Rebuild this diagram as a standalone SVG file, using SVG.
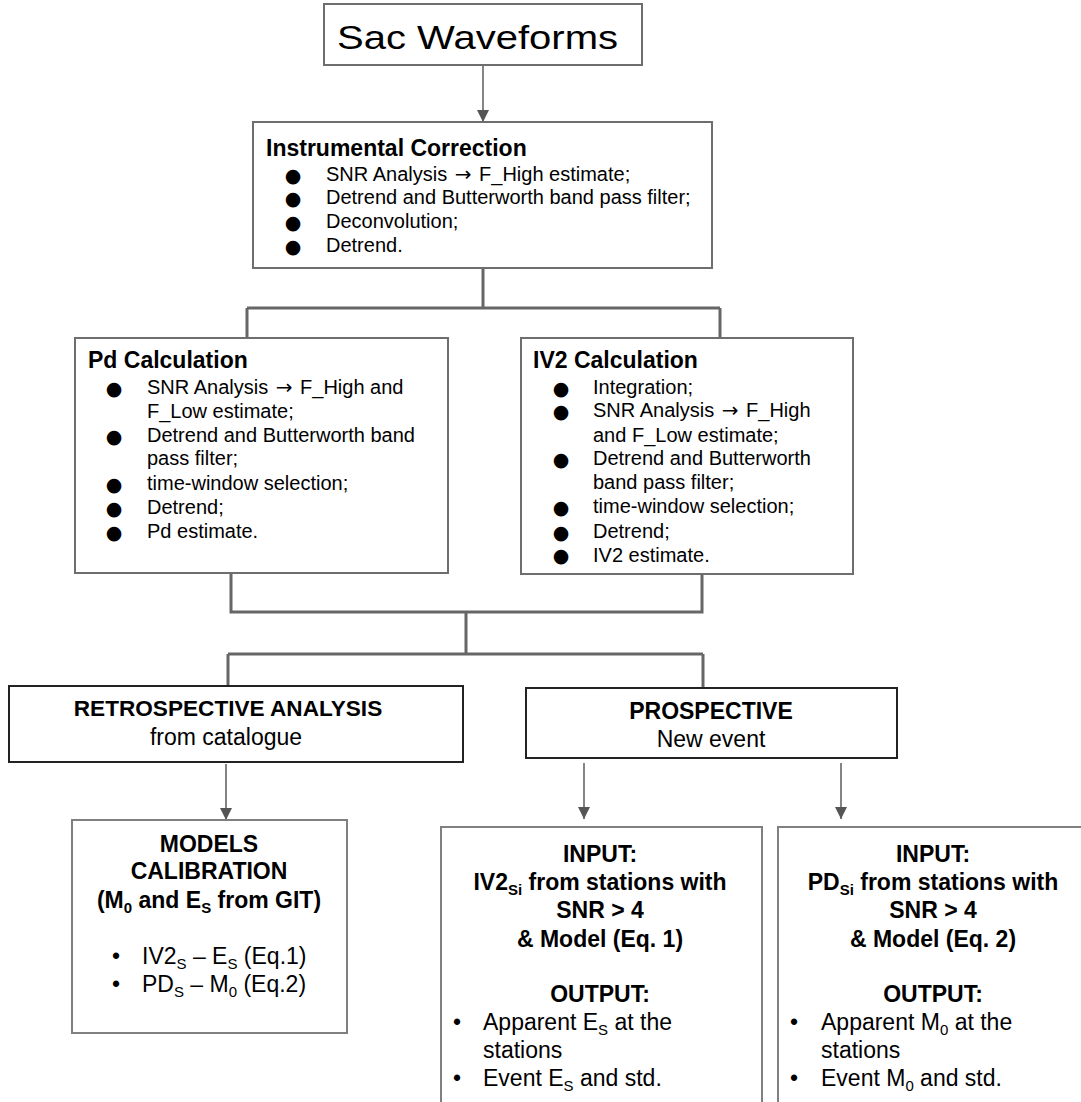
<svg xmlns="http://www.w3.org/2000/svg" width="1081" height="1102" viewBox="0 0 1081 1102">
<style>
text{font-family:"Liberation Sans",Arial,sans-serif;fill:#000}
.b{font-weight:bold}
.t23{font-size:23px}
.t20{font-size:20px}
.c{text-anchor:middle}
.dot{font-family:"DejaVu Sans",sans-serif;font-size:19px;text-anchor:middle}
.ar{font-family:"DejaVu Sans",sans-serif;font-size:20px}
.box{fill:#fff;stroke:#6e6e6e;stroke-width:2}
.dark{fill:#fff;stroke:#222;stroke-width:2}
.lbox{fill:#fff;stroke:#808080;stroke-width:2}
.elbow{fill:none;stroke:#666;stroke-width:3}
.arr{fill:none;stroke:#666;stroke-width:1.6}
.sub{font-size:15px}
</style>
<defs>
<marker id="ah" markerWidth="12" markerHeight="12" viewBox="0 0 12 12" refX="12" refY="6" orient="auto" markerUnits="userSpaceOnUse">
<path d="M0,0 L12,6 L0,12 Z" fill="#555"/>
</marker>
</defs>

<g id="connectors">
<line class="arr" x1="483" y1="65" x2="483" y2="122" marker-end="url(#ah)"/>
<path class="elbow" d="M483,268 V308 M247,308 H720 M247,308 V338 M720,308 V338"/>
<path class="elbow" d="M231,573 V612 H702 V574 M466,612 V654 M228,654 H703 M228,654 V686 M703,654 V688"/>
<line class="arr" x1="226" y1="764" x2="226" y2="820" marker-end="url(#ah)"/>
<line class="arr" x1="584" y1="763" x2="584" y2="819" marker-end="url(#ah)"/>
<line class="arr" x1="841" y1="763" x2="841" y2="819" marker-end="url(#ah)"/>
</g>

<g id="sac">
<rect class="box" x="324" y="4" width="318" height="61"/>
<text x="337" y="49" font-size="34" textLength="281" lengthAdjust="spacingAndGlyphs">Sac Waveforms</text>
</g>

<g id="instrumental">
<rect class="box" x="253" y="122" width="459" height="146"/>
<text class="b t23" x="266" y="156">Instrumental Correction</text>
<text class="dot" x="293" y="182">●</text>
<text class="dot" x="293" y="205">●</text>
<text class="dot" x="293" y="229">●</text>
<text class="dot" x="293" y="253">●</text>
<text class="t20" x="326" y="181">SNR Analysis <tspan class="ar" dx="2">→</tspan><tspan dx="2"> F_High estimate;</tspan></text>
<text class="t20" x="326" y="204">Detrend and Butterworth band pass filter;</text>
<text class="t20" x="326" y="228">Deconvolution;</text>
<text class="t20" x="326" y="252">Detrend.</text>
</g>

<g id="pd">
<rect class="box" x="75" y="338" width="373" height="235"/>
<text class="b t23" x="88" y="368">Pd Calculation</text>
<text class="dot" x="114" y="395">●</text>
<text class="dot" x="114" y="443">●</text>
<text class="dot" x="114" y="491">●</text>
<text class="dot" x="114" y="515">●</text>
<text class="dot" x="114" y="539">●</text>
<text class="t20" x="147" y="394">SNR Analysis <tspan class="ar" dx="2">→</tspan><tspan dx="2"> F_High and</tspan></text>
<text class="t20" x="147" y="418">F_Low estimate;</text>
<text class="t20" x="147" y="442">Detrend and Butterworth band</text>
<text class="t20" x="147" y="465">pass filter;</text>
<text class="t20" x="147" y="490">time-window selection;</text>
<text class="t20" x="147" y="514">Detrend;</text>
<text class="t20" x="147" y="538">Pd estimate.</text>
</g>

<g id="iv2">
<rect class="box" x="521" y="338" width="332" height="236"/>
<text class="b t23" x="533" y="368">IV2 Calculation</text>
<text class="dot" x="561" y="395">●</text>
<text class="dot" x="561" y="418">●</text>
<text class="dot" x="561" y="466">●</text>
<text class="dot" x="561" y="514">●</text>
<text class="dot" x="561" y="539">●</text>
<text class="dot" x="561" y="562">●</text>
<text class="t20" x="593" y="394">Integration;</text>
<text class="t20" x="593" y="417">SNR Analysis <tspan class="ar" dx="2">→</tspan><tspan dx="2"> F_High</tspan></text>
<text class="t20" x="593" y="442">and F_Low estimate;</text>
<text class="t20" x="593" y="465">Detrend and Butterworth</text>
<text class="t20" x="593" y="489">band pass filter;</text>
<text class="t20" x="593" y="513">time-window selection;</text>
<text class="t20" x="593" y="538">Detrend;</text>
<text class="t20" x="593" y="562">IV2 estimate.</text>
</g>

<g id="retrospective">
<rect class="dark" x="9" y="686" width="454" height="76"/>
<text class="b c" x="228" y="716" font-size="22.6">RETROSPECTIVE ANALYSIS</text>
<text class="c t23" x="226" y="745">from catalogue</text>
</g>

<g id="prospective">
<rect class="dark" x="526" y="688" width="371" height="70"/>
<text class="b c t23" x="711" y="719">PROSPECTIVE</text>
<text class="c t23" x="711" y="747">New event</text>
</g>

<g id="models">
<rect class="lbox" x="72" y="820" width="275" height="213"/>
<text class="b c t23" x="209" y="852">MODELS</text>
<text class="b c t23" x="209" y="879">CALIBRATION</text>
<text class="b c t23" x="209" y="908">(M<tspan class="sub" dy="5">0</tspan><tspan dy="-5"> and E</tspan><tspan class="sub" dy="5">S</tspan><tspan dy="-5"> from GIT)</tspan></text>
<text class="t23" x="112" y="964">•</text>
<text class="t23" x="112" y="992">•</text>
<text class="t23" x="142" y="964">IV2<tspan class="sub" dy="5">S</tspan><tspan dy="-5"> – E</tspan><tspan class="sub" dy="5">S</tspan><tspan dy="-5"> (Eq.1)</tspan></text>
<text class="t23" x="142" y="992">PD<tspan class="sub" dy="5">S</tspan><tspan dy="-5"> – M</tspan><tspan class="sub" dy="5">0</tspan><tspan dy="-5"> (Eq.2)</tspan></text>
</g>

<g id="input-iv2">
<rect class="lbox" x="441" y="827" width="321" height="290"/>
<text class="b c t23" x="600" y="862">INPUT:</text>
<text class="b c t23" x="600" y="890">IV2<tspan class="sub" dy="5">Si</tspan><tspan dy="-5"> from stations with</tspan></text>
<text class="b c t23" x="600" y="918">SNR &gt; 4</text>
<text class="b c t23" x="600" y="947">&amp; Model (Eq. 1)</text>
<text class="b c t23" x="600" y="1002">OUTPUT:</text>
<text class="t23" x="453" y="1030">•</text>
<text class="t23" x="453" y="1086">•</text>
<text class="t23" x="483" y="1030">Apparent E<tspan class="sub" dy="5">S</tspan><tspan dy="-5"> at the</tspan></text>
<text class="t23" x="483" y="1058">stations</text>
<text class="t23" x="483" y="1086">Event E<tspan class="sub" dy="5">S</tspan><tspan dy="-5"> and std.</tspan></text>
</g>

<g id="input-pd">
<rect class="lbox" x="778" y="827" width="320" height="290"/>
<text class="b c t23" x="933" y="862">INPUT:</text>
<text class="b c t23" x="933" y="890">PD<tspan class="sub" dy="5">Si</tspan><tspan dy="-5"> from stations with</tspan></text>
<text class="b c t23" x="933" y="918">SNR &gt; 4</text>
<text class="b c t23" x="933" y="947">&amp; Model (Eq. 2)</text>
<text class="b c t23" x="933" y="1002">OUTPUT:</text>
<text class="t23" x="790" y="1030">•</text>
<text class="t23" x="790" y="1086">•</text>
<text class="t23" x="821" y="1030">Apparent M<tspan class="sub" dy="5">0</tspan><tspan dy="-5"> at the</tspan></text>
<text class="t23" x="821" y="1058">stations</text>
<text class="t23" x="821" y="1086">Event M<tspan class="sub" dy="5">0</tspan><tspan dy="-5"> and std.</tspan></text>
</g>
</svg>
